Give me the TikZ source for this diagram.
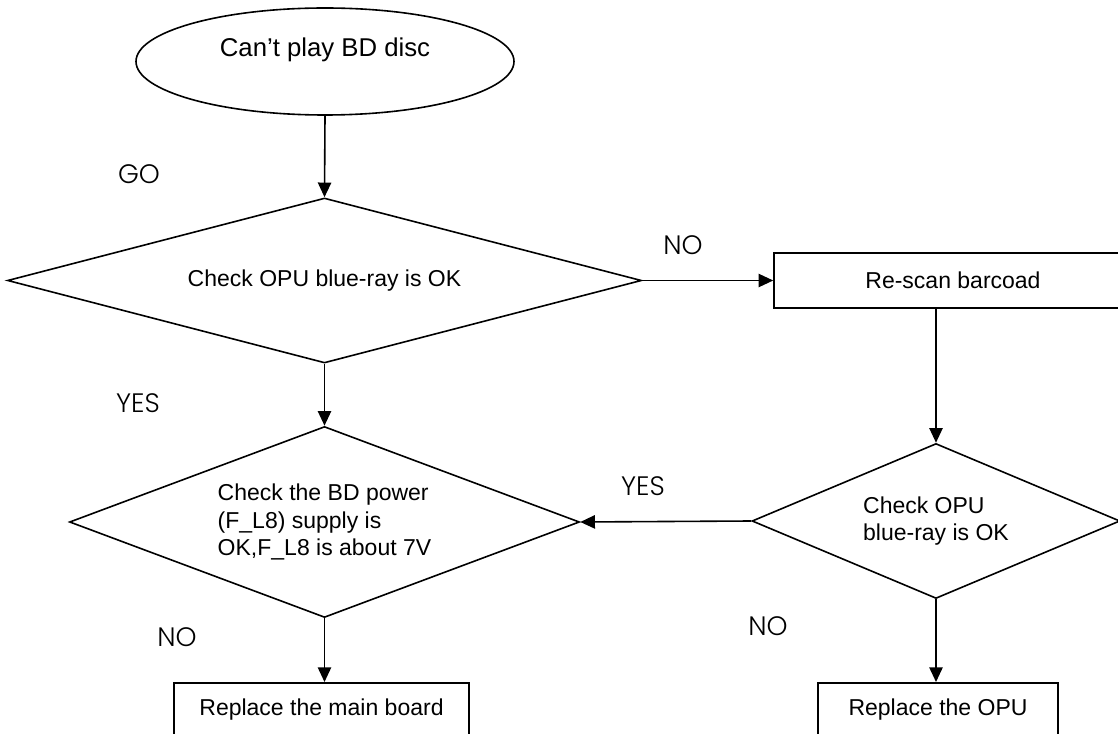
\documentclass[tikz,border=0pt]{standalone}
\usepackage{fontspec}
\setmainfont{Liberation Sans}
\newfontfamily\answerfont{Poppins Light}
\usetikzlibrary{shapes.geometric,arrows.meta}

\begin{document}
\begin{tikzpicture}[x=0.75pt,y=-0.75pt,
  line width=1.2pt,
  every node/.style={font=\fontsize{17.25pt}{20.6pt}\selectfont},
  startnode/.style={draw, ellipse, inner sep=0pt,
    font=\fontsize{19.3pt}{23pt}\selectfont, text height=14pt, text depth=22pt},
  decision/.style={draw, diamond, inner sep=0pt, align=left},
  process/.style={draw, rectangle, inner xsep=0pt},
  flow/.style={-{Triangle[length=11pt,width=10pt]}},
  answer/.style={font=\answerfont\fontsize{20pt}{24pt}\selectfont, inner sep=0pt},
]
\useasboundingbox (0,0) rectangle (1118,734);
\clip (0,0) rectangle (1118,734);

% start
\node[startnode, minimum width=283.5pt, minimum height=80.25pt] (start) at (325,61.5) {Can’t play BD disc};

% first check
\node[decision, shape aspect=3.84, minimum width=475.5pt, minimum height=123.75pt] (d1) at (324.5,280.5) {Check OPU blue-ray is OK};

% re-scan
\node[process, minimum width=268.5pt, minimum height=41.25pt] (r1) at (953,280.5) {Re-scan barcoad};

% second OPU check
\node[decision, shape aspect=2.37, minimum width=276pt, minimum height=116.25pt] (d2) at (936,521) {Check OPU\\blue-ray is OK};

% power check
\node[decision, shape aspect=2.67, minimum width=382.5pt, minimum height=143.25pt] (d3) at (324.5,522) {Check the BD power\\(F\_L8) supply is\\OK,F\_L8 is about 7V};

% final actions
\node[process, anchor=north, minimum width=221.25pt, text height=13pt, text depth=30pt, inner ysep=11.75pt] (b1) at (321.5,682) {Replace the main board};
\node[process, anchor=north, minimum width=180pt, text height=13pt, text depth=30pt, inner ysep=11.75pt] (b2) at (938,682) {Replace the OPU};

% connectors
\draw[flow] (start.south) -- (d1.north);
\draw[flow] (d1.east) -- (r1.west);
\draw[flow] (d1.south) -- (d3.north);
\draw[flow] (r1.south -| d2.north) -- (d2.north);
\draw[flow] (d2.west) -- (d3.east);
\draw[flow] (d3.south) -- (d3.south |- b1.north);
\draw[flow] (d2.south) -- (d2.south |- b2.north);

% answers
\node[answer] (go) at (139,174) {GO};
\node[answer] (no1) at (683,245) {NO};
\node[answer] (yes1) at (138,403) {YES};
\node[answer] (yes2) at (643,486) {YES};
\node[answer] (no2) at (177,637) {NO};
\node[answer] (no3) at (768,626) {NO};
\end{tikzpicture}
\end{document}
